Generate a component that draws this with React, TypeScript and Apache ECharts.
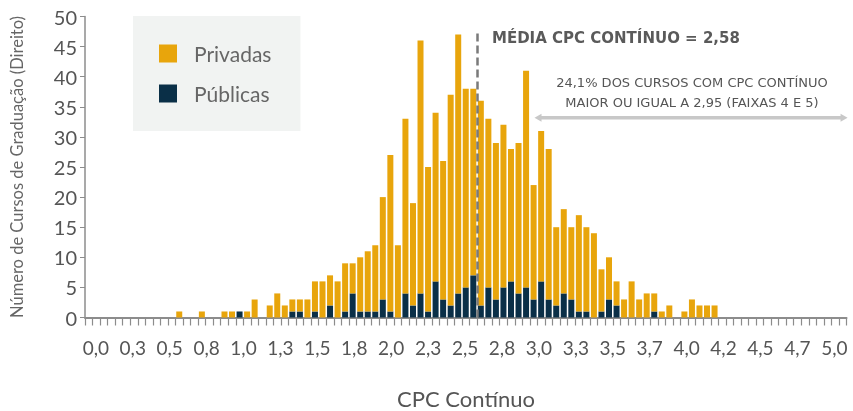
import React, { useEffect, useRef } from "react";
import * as echarts from "echarts";

// Histogram bins (width 0.05), counts
const privadas = [
  0, 0, 0, 0, 0, 0, 0, 0, 0, 0,
  0, 0, 1, 0, 0, 1, 0, 0, 1, 1,
  0, 1, 3, 0, 2, 4, 2, 2, 2, 3,
  5, 6, 5, 6, 8, 5, 9, 10, 11, 17,
  26, 12, 29, 17, 42, 24, 28, 23, 35, 43,
  33, 31, 34, 28, 26, 27, 22, 25, 36, 19,
  25, 25, 13, 14, 12, 16, 14, 14, 7, 7,
  4, 3, 6, 3, 4, 3, 1, 2, 0, 1,
  3, 2, 2, 2, 0, 0, 0, 0, 0, 0,
  0, 0, 0, 0, 0, 0, 0, 0, 0, 0,
  0,
];
const publicas = [
  0, 0, 0, 0, 0, 0, 0, 0, 0, 0,
  0, 0, 0, 0, 0, 0, 0, 0, 0, 0,
  1, 0, 0, 0, 0, 0, 0, 1, 1, 0,
  1, 0, 2, 0, 1, 4, 1, 1, 1, 3,
  1, 0, 4, 2, 4, 1, 6, 3, 2, 4,
  5, 7, 2, 5, 3, 5, 6, 4, 5, 3,
  6, 3, 2, 4, 3, 1, 1, 0, 1, 3,
  2, 0, 0, 0, 0, 1, 0, 0, 0, 0,
  0, 0, 0, 0, 0, 0, 0, 0, 0, 0,
  0, 0, 0, 0, 0, 0, 0, 0, 0, 0,
  0,
];
const bins = privadas.map((_, i) => ((i - 1) * 0.05).toFixed(2));

const xTickLabels = [
  "0,0", "0,3", "0,5", "0,8", "1,0", "1,3", "1,5", "1,8", "2,0", "2,3", "2,5",
  "2,8", "3,0", "3,3", "3,5", "3,7", "4,0", "4,2", "4,5", "4,7", "5,0",
];
const X_MIN = 0;
const X_MAX = 5;
const X_STEP = 0.25;
const Y_MAX = 50;
const Y_STEP = 5;

const MEAN = 2.58;
const MEAN_LINE_TOP = 47.3;
const ARROW_FROM = 2.97;
const ARROW_TO = 5.09;
const ARROW_Y = 33.2;

const FONT = "Lato";
const NOTE_FONT = "DejaVu Sans";
const ORANGE = "#E8A50C";
const NAVY = "#0A2F47";
const ARROW_COLOR = "#C8C8C8";

export default function App() {
  const ref = useRef<HTMLDivElement>(null);

  useEffect(() => {
    if (!ref.current) return;
    const chart = echarts.init(ref.current, undefined, { renderer: "svg" });
    const gridTop = 16.5;
    const gridBottom = 93.5;
    const hiddenAxis = {
      axisLine: { show: false },
      axisTick: { show: false },
      splitLine: { show: false },
    };
    const staticGraphics: any[] = [
      {
        id: "meanText",
        type: "text",
        left: 492,
        top: 30,
        style: {
          text: `MÉDIA CPC CONTÍNUO = ${MEAN.toFixed(2).replace(".", ",")}`,
          fontFamily: NOTE_FONT,
          fontSize: 15,
          fontWeight: "bold",
          fill: "#5A5A5A",
        },
      },
      {
        id: "rangeText",
        type: "text",
        x: 692,
        y: 72,
        style: {
          text: "24,1% DOS CURSOS COM CPC CONTÍNUO\nMAIOR OU IGUAL A 2,95 (FAIXAS 4 E 5)",
          fontFamily: NOTE_FONT,
          fontSize: 13,
          lineHeight: 20,
          fill: "#555",
          align: "center",
        },
      },
      {
        id: "xName",
        type: "text",
        x: 466,
        y: 398,
        style: {
          text: "CPC Contínuo",
          fontFamily: FONT,
          fontSize: 22,
          fill: "#555",
          align: "center",
          verticalAlign: "middle",
        },
      },
    ];
    chart.setOption({
      animation: false,
      textStyle: { fontFamily: FONT },
      grid: [
        { left: 84, right: 6.5, top: gridTop, bottom: gridBottom },
        { left: 95.8, right: 18.7, top: gridTop, bottom: gridBottom },
      ],
      legend: {
        data: ["Privadas", "Públicas"],
        orient: "vertical",
        left: 133,
        top: 16,
        backgroundColor: "#F1F3F2",
        padding: [27, 29, 27, 26],
        itemWidth: 18,
        itemHeight: 18,
        itemGap: 19,
        icon: "rect",
        selectedMode: false,
        textStyle: {
          fontFamily: FONT,
          fontSize: 21,
          color: "#666",
          padding: [0, 0, 0, 12],
        },
      },
      xAxis: [
        {
          type: "category",
          gridIndex: 0,
          data: bins,
          boundaryGap: true,
          axisLine: { lineStyle: { color: "#8C8C8C", width: 2 } },
          axisTick: {
            show: true,
            interval: 0,
            length: 8,
            lineStyle: { color: "#8C8C8C", width: 1.2 },
          },
          axisLabel: { show: false },
          splitLine: { show: false },
        },
        {
          type: "value",
          gridIndex: 1,
          min: X_MIN,
          max: X_MAX,
          interval: X_STEP,
          ...hiddenAxis,
          axisLabel: {
            show: true,
            margin: 20,
            fontFamily: FONT,
            fontSize: 19,
            color: "#555",
            formatter: (v: number) => xTickLabels[Math.round((v - X_MIN) / X_STEP)] ?? "",
          },
        },
      ],
      yAxis: [
        {
          type: "value",
          gridIndex: 0,
          min: 0,
          max: Y_MAX,
          interval: Y_STEP,
          name: "Número de Cursos de Graduação (Direito)",
          nameLocation: "middle",
          nameGap: 60,
          nameTextStyle: { fontFamily: FONT, fontSize: 16.5, color: "#666" },
          axisLine: { show: true, lineStyle: { color: "#8C8C8C", width: 1.5 } },
          axisTick: { show: true, length: 5, lineStyle: { color: "#8C8C8C" } },
          axisLabel: { margin: 8, fontFamily: FONT, fontSize: 20, color: "#555" },
          splitLine: { show: false },
        },
        {
          type: "value",
          gridIndex: 1,
          min: 0,
          max: Y_MAX,
          interval: Y_STEP,
          ...hiddenAxis,
          axisLabel: { show: false },
        },
      ],
      graphic: staticGraphics,
      series: [
        {
          name: "Públicas",
          type: "bar",
          stack: "total",
          xAxisIndex: 0,
          yAxisIndex: 0,
          data: publicas,
          barWidth: 6,
          itemStyle: { color: NAVY },
        },
        {
          name: "Privadas",
          type: "bar",
          stack: "total",
          xAxisIndex: 0,
          yAxisIndex: 0,
          data: privadas,
          barWidth: 6,
          itemStyle: { color: ORANGE },
        },
        {
          name: "annotations",
          type: "scatter",
          xAxisIndex: 1,
          yAxisIndex: 1,
          data: [[MEAN, 0]],
          symbolSize: 0,
          silent: true,
          markLine: {
            silent: true,
            animation: false,
            label: { show: false },
            symbol: "none",
            lineStyle: { color: "#7A7A7A", width: 2.5, type: [8, 4] },
            data: [[{ coord: [MEAN, 0] }, { coord: [MEAN, MEAN_LINE_TOP] }]],
          },
        },
      ],
    });

    // Double-headed arrow for the "≥ 2,95" range, placed through the label axis scale
    const finder = { xAxisIndex: 1, yAxisIndex: 1 };
    const p1 = chart.convertToPixel(finder as any, [ARROW_FROM, ARROW_Y]) as number[];
    const p2 = chart.convertToPixel(finder as any, [ARROW_TO, ARROW_Y]) as number[];
    if (p1 && p2) {
      const head = 7;
      const half = 4;
      chart.setOption({
        graphic: [
          ...staticGraphics,
          {
            id: "arrowLine",
            type: "line",
            shape: { x1: p1[0] + head - 1, y1: p1[1], x2: p2[0] - head + 1, y2: p2[1] },
            style: { stroke: ARROW_COLOR, lineWidth: 3.5 },
            silent: true,
          },
          {
            id: "arrowHeadL",
            type: "polygon",
            shape: {
              points: [
                [p1[0], p1[1]],
                [p1[0] + head, p1[1] - half],
                [p1[0] + head, p1[1] + half],
              ],
            },
            style: { fill: ARROW_COLOR },
            silent: true,
          },
          {
            id: "arrowHeadR",
            type: "polygon",
            shape: {
              points: [
                [p2[0], p2[1]],
                [p2[0] - head, p2[1] - half],
                [p2[0] - head, p2[1] + half],
              ],
            },
            style: { fill: ARROW_COLOR },
            silent: true,
          },
        ],
      });
    }
    return () => chart.dispose();
  }, []);

  return (
    <div
      ref={ref}
      style={{ position: "fixed", left: 0, top: 0, width: 853, height: 411 }}
    />
  );
}
